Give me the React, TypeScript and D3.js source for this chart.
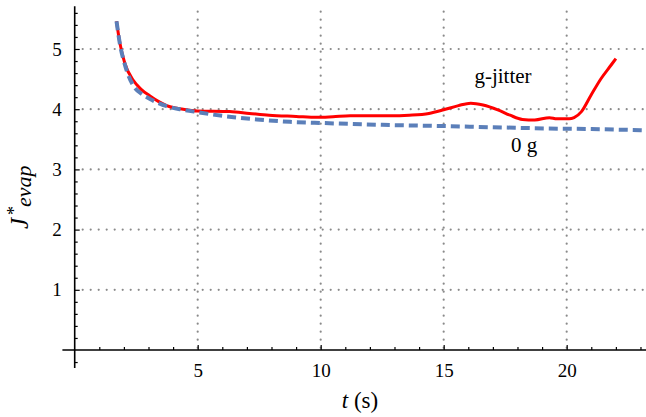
import { useRef, useEffect } from 'react';
import { select, scaleLinear, axisLeft, axisBottom, line, curveMonotoneX, range } from 'd3';

const W = 646;
const H = 417;

// g-jitter run (red, solid)
const tJitter = [1.7, 1.84, 2.04, 2.38, 2.7, 3.06, 3.4, 3.74, 4.41, 5.0, 6.3, 7.1, 7.9, 9.0, 9.85, 10.5, 11.2, 12.8, 13.6, 14.4, 15.0, 15.6, 16.1, 16.6, 17.2, 17.7, 18.2, 18.7, 19.3, 19.6, 20.1, 20.3, 20.6, 21.0, 21.4, 21.8, 22.0];
const jJitter = [5.46, 5.09, 4.76, 4.48, 4.33, 4.22, 4.13, 4.06, 4.0, 3.97, 3.96, 3.93, 3.9, 3.88, 3.865, 3.875, 3.89, 3.89, 3.9, 3.93, 3.99, 4.06, 4.1, 4.07, 3.99, 3.9, 3.83, 3.82, 3.86, 3.84, 3.84, 3.86, 3.96, 4.24, 4.51, 4.73, 4.84];

// 0 g run (blue, dashed)
const tZeroG = [1.7, 1.84, 2.04, 2.37, 2.7, 3.06, 3.74, 4.41, 5.0, 5.63, 6.0, 7.4, 8.75, 10.1, 12.5, 15.0, 17.0, 19.2, 21.0, 23.2];
const jZeroG = [5.46, 5.08, 4.74, 4.4, 4.26, 4.17, 4.05, 3.99, 3.95, 3.91, 3.89, 3.83, 3.79, 3.77, 3.74, 3.72, 3.7, 3.68, 3.67, 3.65];

const xTicks = [5, 10, 15, 20];
const yTicks = [1, 2, 3, 4, 5];

const x = scaleLinear().domain([0, 23.2]).range([74.7, 645.4]);
const y = scaleLinear().domain([0, 5]).range([350, 49]);

const FONT = 'Liberation Serif';

function App() {
  const svgRef = useRef(null);

  useEffect(() => {
    const svg = select(svgRef.current);
    svg.selectAll('.axes').remove();
    const g = svg.append('g').attr('class', 'axes');

    // minor ticks
    const xMinor = range(1, 24).filter(v => v % 5 !== 0);
    const yMinor = range(-1, 29).map(v => +(v * 0.2).toFixed(1)).filter(v => v % 1 !== 0);

    g.append('g')
      .attr('transform', `translate(0,${y(0)})`)
      .call(axisBottom(x).tickValues(xMinor).tickSize(-3).tickFormat(() => ''))
      .call(s => s.select('.domain').remove());
    g.append('g')
      .attr('transform', `translate(${x(0)},0)`)
      .call(axisLeft(y).tickValues(yMinor).tickSize(-3).tickFormat(() => ''))
      .call(s => s.select('.domain').remove());

    // major ticks + labels
    g.append('g')
      .attr('transform', `translate(0,${y(0)})`)
      .call(axisBottom(x).tickValues(xTicks).tickSize(-5).tickPadding(14).tickFormat(d => String(d)))
      .call(s => s.select('.domain').remove())
      .attr('font-family', FONT).attr('font-size', 19)
      .call(s => s.selectAll('text').attr('fill', '#000'));
    g.append('g')
      .attr('transform', `translate(${x(0)},0)`)
      .call(axisLeft(y).tickValues(yTicks).tickSize(-5).tickPadding(13).tickFormat(d => String(d)))
      .call(s => s.select('.domain').remove())
      .attr('font-family', FONT).attr('font-size', 19)
      .call(s => s.selectAll('text').attr('fill', '#000'));

    g.selectAll('.tick line').attr('stroke', '#000').attr('stroke-width', 1.2);

    // axis lines
    g.append('line')
      .attr('x1', x(-0.5)).attr('x2', W)
      .attr('y1', y(0)).attr('y2', y(0))
      .attr('stroke', '#000').attr('stroke-width', 1.6);
    g.append('line')
      .attr('x1', x(0)).attr('x2', x(0))
      .attr('y1', y(5.71)).attr('y2', y(-0.3))
      .attr('stroke', '#000').attr('stroke-width', 1.6);
  }, []);

  const jitterLine = line<number>()
    .x(i => x(tJitter[i]))
    .y(i => y(jJitter[i]))
    .curve(curveMonotoneX);
  const zeroLine = line<number>()
    .x(i => x(tZeroG[i]))
    .y(i => y(jZeroG[i]))
    .curve(curveMonotoneX);

  return (
    <svg ref={svgRef} width={W} height={H} fontFamily={FONT} style={{ position: 'absolute', left: 0, top: 0, background: '#fff' }}>
      <g className="grid" stroke="#8a8a8a" strokeWidth={2.2} strokeLinecap="round" strokeDasharray="0,8">
        {yTicks.map(v => (
          <line key={'h' + v} x1={x(0) + 8} x2={W} y1={y(v)} y2={y(v)} />
        ))}
        {xTicks.map(v => (
          <line key={'v' + v} x1={x(v)} x2={x(v)} y1={y(5.62)} y2={y(0)} />
        ))}
      </g>
      <path d={jitterLine(range(tJitter.length)) || ''} fill="none" stroke="#ff0000" strokeWidth={3} strokeLinejoin="round" />
      <path d={zeroLine(range(tZeroG.length)) || ''} fill="none" stroke="#5b7fb9" strokeWidth={4} strokeDasharray="9,5" />

      <text x={503} y={83} fontFamily={FONT} fontSize={21} textAnchor="middle">g-jitter</text>
      <text x={524} y={152} fontFamily={FONT} fontSize={21} textAnchor="middle">0 g</text>

      <text x={360} y={408} fontFamily={FONT} fontSize={23} textAnchor="middle">
        <tspan fontStyle="italic">t</tspan> (s)
      </text>

      <text transform="translate(28,229) rotate(-90)" fontFamily={FONT} fontStyle="italic">
        <tspan x={0} y={0} fontSize={25}>J</tspan>
        <tspan x={14} y={-8} fontSize={18} fontStyle="normal">*</tspan>
        <tspan x={22} y={3} fontSize={22}>evap</tspan>
      </text>
    </svg>
  );
}

export default App;
